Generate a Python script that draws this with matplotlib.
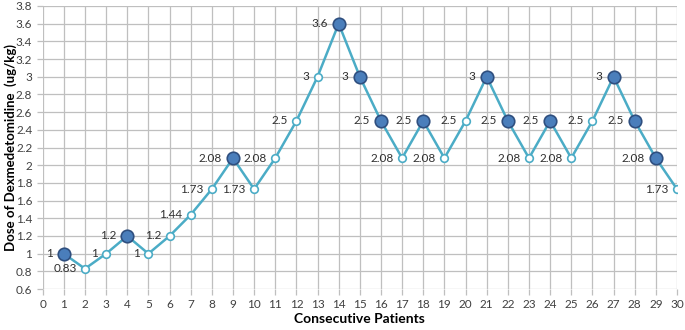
import numpy as np
import matplotlib.pyplot as plt

# patient number, dose and whether the dose was "failed" (filled marker)
patients = list(range(1, 31))
dose = [1, 0.83, 1, 1.2, 1, 1.2, 1.44, 1.73, 2.08, 1.73,
        2.08, 2.5, 3, 3.6, 3, 2.5, 2.08, 2.5, 2.08, 2.5,
        3, 2.5, 2.08, 2.5, 2.08, 2.5, 3, 2.5, 2.08, 1.73]
labels = ['1', '0.83', '1', '1.2', '1', '1.2', '1.44', '1.73', '2.08', '1.73',
          '2.08', '2.5', '3', '3.6', '3', '2.5', '2.08', '2.5', '2.08', '2.5',
          '3', '2.5', '2.08', '2.5', '2.08', '2.5', '3', '2.5', '2.08', '1.73']
filled = [1, 0, 0, 1, 0, 0, 0, 0, 1, 0,
          0, 0, 0, 1, 1, 1, 0, 1, 0, 0,
          1, 1, 0, 1, 0, 0, 1, 1, 1, 0]

plt.rcParams['font.family'] = ['Lato', 'DejaVu Sans']

fig = plt.figure(figsize=(6.85, 3.3), dpi=100)
ax = fig.add_axes([0.0623, 0.124, 0.926, 0.858])

x = np.array(patients)
y = np.array(dose)
f = np.array(filled, dtype=bool)

ax.plot(x, y, '-', color='#4BACC6', lw=1.8, zorder=2)
ax.plot(x[~f], y[~f], 'o', ms=5.5, mfc='white', mec='#4BACC6', mew=1.2, zorder=3)
ax.plot(x[f], y[f], 'o', ms=9, mfc='#4A7EBB', mec='#2F4F7F', mew=1.2, zorder=4)

for xi, yi, lab, fi in zip(x, y, labels, filled):
    ax.annotate(lab, (xi, yi), xytext=(-8 if fi else -6, 0), textcoords='offset points',
                ha='right', va='center', fontsize=8.5, color='#303030')

ax.set_xlim(0, 30)
ax.set_ylim(0.6, 3.8)
ax.set_xticks(range(0, 31))
yt = np.round(np.arange(0.6, 3.81, 0.2), 1)
ax.set_yticks(yt)
ax.set_yticklabels([f'{v:g}' for v in yt])
ax.grid(True, color='#BFBFBF', lw=0.9)
ax.set_axisbelow(True)
for s in ax.spines.values():
    s.set_visible(False)
ax.tick_params(colors='#BFBFBF', labelcolor='#404040', labelsize=8.5, length=4, width=0.9)

ax.set_xlabel('Consecutive Patients', fontsize=10, fontweight='bold', color='black')
ax.set_ylabel('Dose of Dexmedetomidine  (ug/kg)', fontsize=9.5, fontweight='bold', color='black')
ax.xaxis.set_label_coords(0.5, -0.085)
ax.yaxis.set_label_coords(-0.04, 0.5)

fig.savefig('out.png', dpi=100)
